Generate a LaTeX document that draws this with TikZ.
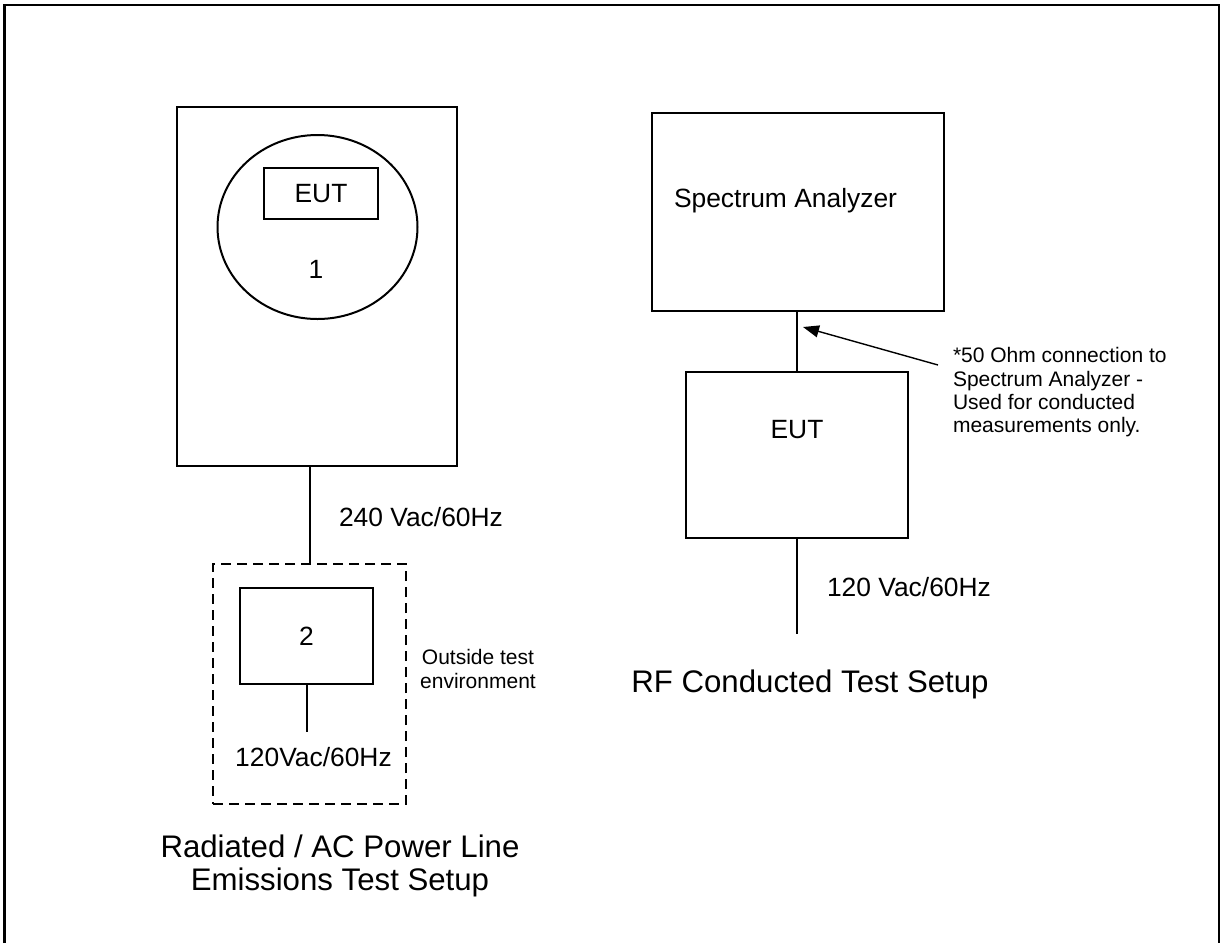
\documentclass[tikz,border=0pt]{standalone}
\usepackage{fontspec}
\setmainfont{Liberation Sans}
\usetikzlibrary{shapes.geometric,arrows.meta}

\begin{document}
\begin{tikzpicture}[x=0.5pt, y=-0.5pt, line width=1pt,
  box/.style={draw, rectangle, inner sep=0pt, outer sep=0pt},
  lbl/.style={font=\fontsize{13.2}{15.8}\selectfont, inner sep=0pt},
  note/.style={font=\fontsize{10.5}{11.7}\selectfont, align=left, inner sep=0pt},
  capt/.style={font=\fontsize{15.6}{16.5}\selectfont, align=center, inner sep=0pt}]
  \useasboundingbox (0,0) rectangle (1220,943);
  \draw[line width=1.3pt] (4.5,943) -- (4.5,5) -- (1219,5) -- (1219,943);
  % radiated / AC power line setup
  \node[box, minimum width=140pt, minimum height=179.5pt] (chamber) at (317,286.5) {};
  \node[draw, ellipse, inner sep=0pt, minimum width=100pt, minimum height=92pt] (table) at (317.5,227) {};
  \node[box, lbl, minimum width=57pt, minimum height=25.5pt] (eutA) at (321,193.5) {EUT};
  \node[lbl, anchor=base] (one) at (316,278) {1};
  \node[box, dashed, dash pattern=on 5pt off 3pt, minimum width=96.5pt, minimum height=120pt] (outside) at (309.5,684) {};
  \draw (outside.north) -- (outside.north |- chamber.south);
  \node[lbl, anchor=base west] (v240) at (338,526) {240 Vac/60Hz};
  \node[box, lbl, minimum width=66.5pt, minimum height=48pt] (supply) at (306.5,636) {2};
  \coordinate (plugA) at (306.5,732);
  \draw (supply.south) -- (plugA);
  \node[lbl, anchor=base] (v120a) at (313.5,766) {120Vac/60Hz};
  \node[note, align=center] (outlbl) at (478,669) {Outside test\\environment};
  \node[capt, anchor=base] (captA) at (340,890) {Radiated / AC Power Line\\Emissions Test Setup};
  % RF conducted setup
  \node[box, minimum width=146pt, minimum height=99pt] (analyzer) at (798,212) {};
  \node[lbl, anchor=base west] (salbl) at (673,207) {Spectrum Analyzer};
  \node[box, minimum width=111pt, minimum height=83pt] (eutB) at (797,455) {};
  \node[lbl, anchor=base] (eutBlbl) at (797,438) {EUT};
  \draw (eutB.north) -- (eutB.north |- analyzer.south);
  \coordinate (plugB) at (797,634);
  \draw (eutB.south) -- (plugB);
  \node[lbl, anchor=base west] (v120b) at (826,596) {120 Vac/60Hz};
  \node[note, anchor=north west] (note) at (952,346.5) {*50 Ohm connection to\\Spectrum Analyzer -\\Used for conducted\\measurements only.};
  \coordinate (tail) at (938,365);
  \coordinate (tap) at (803,327);
  \draw[-{Triangle[length=8pt,width=6pt]}, line width=0.7pt] (tail) -- (tap);
  \node[capt, anchor=base] (captB) at (810,692) {RF Conducted Test Setup};
\end{tikzpicture}
\end{document}
